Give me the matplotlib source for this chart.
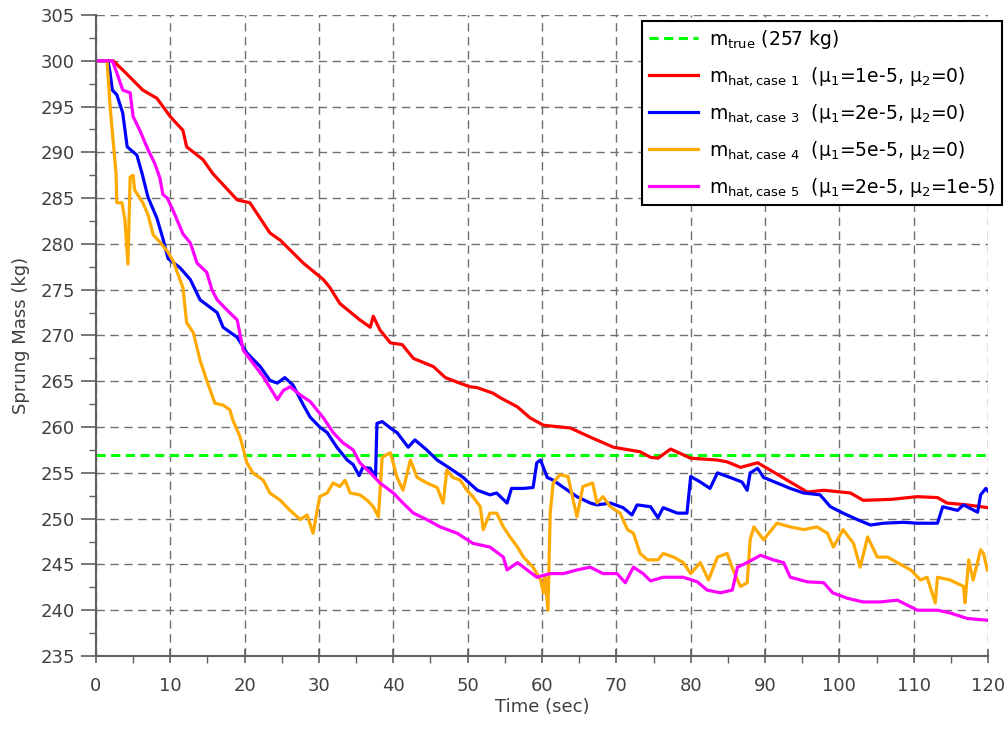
import numpy as np
import matplotlib
matplotlib.use('Agg')
import matplotlib.pyplot as plt
from matplotlib.ticker import MultipleLocator

plt.rcParams['font.family'] = ['DejaVu Sans']
plt.rcParams['mathtext.default'] = 'regular'

# true sprung mass
m_true = 257.0

# case 1 (mu1=1e-5, mu2=0)
t_case1 = [0, 2.3, 3.6, 6.3, 8.2, 10, 11.7, 12.2, 14.4, 15.7, 19, 20.7, 23.4, 24.8, 27.9,
           30.6, 31.5, 32.8, 35.5, 36.9, 37.3, 38.2, 39.6, 41.2, 42.7, 45.4, 47, 48.6,
           50.3, 51.3, 53.4, 54.4, 56.7, 58.4, 60.2, 63.8, 66.5, 69.6, 73.2, 74.6, 75.6,
           77.3, 80, 83.6, 84.9, 86.7, 89, 90.7, 93.4, 95.7, 97.9, 101.5, 103.2, 106.9,
           110.5, 113.2, 114.5, 117.2, 120]
m_case1 = [300, 300, 299.0, 296.8, 295.9, 293.9, 292.4, 290.6, 289.2, 287.7, 284.8, 284.5,
           281.2, 280.4, 277.9, 276.1, 275.2, 273.5, 271.7, 270.9, 272.1, 270.6, 269.2,
           269.0, 267.5, 266.6, 265.4, 264.9, 264.4, 264.3, 263.7, 263.2, 262.2, 261.0,
           260.2, 259.9, 258.9, 257.8, 257.3, 256.7, 256.6, 257.6, 256.6, 256.4, 256.2,
           255.6, 256.1, 255.3, 254.0, 252.9, 253.1, 252.8, 252.0, 252.1, 252.4, 252.3,
           251.7, 251.5, 251.2]

# case 3 (mu1=2e-5, mu2=0)
t_case3 = [0, 1.6, 1.9, 2.2, 2.8, 3.6, 4.2, 5.5, 6.2, 7.0, 8.2, 9.0, 9.7, 11.3, 12.7, 14.0,
           16.3, 17.1, 19.0, 20.3, 22.1, 23.4, 24.4, 25.4, 26.5, 27.9, 28.8, 30.1, 31.1,
           32.4, 33.8, 34.6, 35.4, 35.9, 36.9, 37.6, 37.8, 38.5, 39.6, 40.5, 42.0, 42.9,
           44.5, 45.9, 47.6, 49.4, 51.3, 53.0, 53.9, 55.3, 55.9, 57.5, 58.8, 59.3, 59.8,
           60.7, 61.5, 62.9, 64.7, 66.5, 67.4, 69.2, 70.9, 72.1, 72.8, 74.6, 75.6, 76.3,
           78.2, 79.5, 80.0, 81.3, 82.6, 83.6, 85.3, 86.9, 87.6, 88.0, 89.0, 89.8, 91.6,
           93.4, 95.2, 97.4, 98.8, 100.5, 102.4, 104.2, 105.9, 108.6, 110.5, 113.2, 113.9,
           115.9, 116.7, 118.6, 119.0, 119.7, 120]
m_case3 = [300, 300, 298.7, 296.8, 296.3, 294.3, 290.6, 289.7, 287.7, 285.1, 282.8, 280.6,
           278.4, 277.4, 276.1, 273.9, 272.5, 270.9, 269.8, 268.1, 266.6, 265.1, 264.8,
           265.4, 264.6, 262.4, 261.1, 260.0, 259.4, 257.8, 256.4, 255.9, 254.7, 255.6,
           255.5, 254.5, 260.4, 260.6, 259.9, 259.4, 257.8, 258.6, 257.5, 256.4, 255.5,
           254.5, 253.1, 252.6, 252.8, 251.7, 253.3, 253.3, 253.4, 256.1, 256.4, 254.5,
           254.2, 253.4, 252.4, 251.7, 251.5, 251.7, 251.2, 250.4, 251.5, 251.3, 250.1,
           251.2, 250.6, 250.6, 254.6, 254.0, 253.3, 255.0, 254.5, 254.0, 253.1, 255.0,
           255.5, 254.5, 253.9, 253.3, 252.8, 252.6, 251.3, 250.6, 249.9, 249.3, 249.5,
           249.6, 249.5, 249.5, 251.3, 250.9, 251.5, 250.7, 252.6, 253.3, 253.0]

# case 4 (mu1=5e-5, mu2=0)
t_case4 = [0, 1.2, 1.5, 1.9, 2.3, 2.7, 2.8, 3.5, 3.9, 4.3, 4.6, 5.0, 5.2, 6.3, 7.0, 7.7,
           8.6, 9.6, 10.4, 11.3, 11.7, 12.2, 13.1, 14.0, 14.9, 16.0, 17.1, 18.0, 18.4,
           19.4, 20.3, 21.1, 22.5, 23.4, 24.8, 26.1, 27.5, 28.4, 29.2, 29.7, 30.1, 31.1,
           31.9, 32.8, 33.5, 34.2, 35.5, 36.5, 37.3, 38.0, 38.5, 39.6, 40.5, 41.3, 42.3,
           43.2, 44.5, 45.9, 46.7, 47.2, 48.0, 49.0, 49.9, 50.7, 51.7, 52.1, 53.0, 53.9,
           54.8, 55.7, 56.7, 57.5, 58.8, 59.8, 60.2, 60.4, 60.8, 61.1, 61.5, 62.4, 63.5,
           64.2, 64.7, 65.5, 66.8, 67.4, 68.2, 69.2, 70.5, 71.5, 72.3, 73.2, 74.2, 75.6,
           76.3, 77.7, 79.0, 80.0, 81.3, 82.4, 83.6, 84.9, 85.7, 86.7, 87.6, 88.0, 88.5,
           89.8, 91.6, 93.4, 95.2, 97.0, 98.4, 99.2, 100.5, 101.9, 102.8, 103.8, 105.1,
           106.5, 107.8, 109.6, 110.9, 111.8, 112.9, 113.2, 114.9, 116.7, 116.9, 117.4,
           118.0, 119.0, 119.4, 119.9]
m_case4 = [300, 300, 300, 295.0, 291.3, 287.7, 284.5, 284.5, 282.6, 277.8, 287.3, 287.5,
           285.9, 284.5, 283.2, 281.0, 280.2, 279.2, 278.1, 276.1, 275.2, 271.4, 270.3,
           267.3, 265.1, 262.6, 262.4, 261.9, 260.8, 258.9, 256.1, 255.0, 254.2, 252.8,
           252.0, 250.9, 249.9, 250.4, 248.4, 250.6, 252.4, 252.8, 253.9, 253.5, 254.2,
           252.8, 252.6, 252.0, 251.3, 250.2, 256.7, 257.2, 254.5, 253.1, 256.4, 254.5,
           253.9, 253.4, 251.7, 255.3, 254.5, 254.2, 253.1, 252.4, 251.3, 248.8, 250.6,
           250.6, 249.1, 248.0, 246.9, 245.8, 244.7, 243.3, 241.9, 243.6, 240.0, 250.6,
           253.9, 254.8, 254.6, 252.0, 250.2, 253.5, 253.9, 251.7, 252.4, 251.3, 250.6,
           248.8, 248.4, 246.2, 245.5, 245.5, 246.2, 245.8, 245.2, 244.0, 245.2, 243.3,
           245.8, 246.2, 244.4, 242.6, 243.0, 247.7, 249.1, 247.7, 249.5, 249.1, 248.8,
           249.1, 248.4, 246.9, 248.8, 247.3, 244.7, 248.0, 245.8, 245.8, 245.2, 244.4,
           243.3, 243.6, 240.8, 243.6, 243.3, 242.6, 240.8, 245.5, 243.3, 246.6, 246.2,
           244.4]

# case 5 (mu1=2e-5, mu2=1e-5)
t_case5 = [0, 2.2, 2.8, 3.6, 4.6, 5.0, 5.9, 7.0, 7.9, 8.6, 9.0, 9.6, 10.4, 11.7, 12.7, 13.6,
           14.9, 15.6, 16.3, 17.6, 19.0, 19.8, 21.1, 22.5, 24.4, 25.2, 26.1, 27.5, 28.8,
           30.6, 31.9, 33.2, 34.6, 35.5, 36.9, 38.2, 40.0, 41.3, 42.7, 44.5, 46.3, 48.6,
           50.7, 53.0, 54.8, 55.3, 56.7, 58.0, 59.3, 61.1, 62.9, 64.7, 66.5, 68.2, 70.1,
           71.2, 72.3, 73.6, 74.6, 76.3, 79.0, 80.9, 82.2, 84.0, 85.6, 86.3, 87.6, 89.4,
           91.1, 92.5, 93.4, 95.7, 97.9, 99.1, 101.1, 103.2, 105.5, 107.8, 110.5, 113.2,
           114.9, 117.2, 120]
m_case5 = [300, 300, 298.7, 296.8, 296.5, 293.9, 292.4, 290.3, 288.8, 287.2, 285.4, 285.0,
           283.6, 281.1, 280.1, 277.9, 276.9, 275.0, 273.9, 272.8, 271.7, 268.4, 267.0,
           265.5, 263.0, 264.0, 264.4, 263.5, 262.8, 261.0, 259.4, 258.3, 257.5, 256.1,
           255.0, 253.9, 252.8, 251.7, 250.6, 249.9, 249.1, 248.4, 247.3, 246.9, 245.8,
           244.4, 245.2, 244.4, 243.6, 244.0, 244.0, 244.4, 244.7, 244.0, 244.0, 243.0,
           244.7, 244.0, 243.2, 243.6, 243.6, 243.1, 242.2, 241.9, 242.2, 244.7, 245.2,
           246.0, 245.5, 245.2, 243.6, 243.1, 243.0, 241.9, 241.3, 240.9, 240.9, 241.1,
           240.0, 240.0, 239.7, 239.1, 238.9]

labels = [r'm$_{true}$ (257 kg)',
          r'm$_{hat,case\ 1}$  (μ$_1$=1e-5, μ$_2$=0)',
          r'm$_{hat,case\ 3}$  (μ$_1$=2e-5, μ$_2$=0)',
          r'm$_{hat,case\ 4}$  (μ$_1$=5e-5, μ$_2$=0)',
          r'm$_{hat,case\ 5}$  (μ$_1$=2e-5, μ$_2$=1e-5)']

txtc = '#404040'
fig = plt.figure(figsize=(10.08, 7.31), dpi=100)
ax = fig.add_axes([0.0952, 0.1026, 0.885, 0.8769])

ax.plot([0, 120], [m_true, m_true], '--', color='#00ff00', lw=2.2, dashes=(3, 1.8), label=labels[0])
ax.plot(t_case1, m_case1, color='#ff0000', lw=2.3, label=labels[1])
ax.plot(t_case3, m_case3, color='#0000ff', lw=2.3, label=labels[2])
ax.plot(t_case4, m_case4, color='#ffaa00', lw=2.3, label=labels[3])
ax.plot(t_case5, m_case5, color='#ff00ff', lw=2.3, label=labels[4])

ax.set_xlim(0, 120)
ax.set_ylim(235, 305)
ax.xaxis.set_major_locator(MultipleLocator(10))
ax.xaxis.set_minor_locator(MultipleLocator(5))
ax.yaxis.set_major_locator(MultipleLocator(5))
ax.yaxis.set_minor_locator(MultipleLocator(2.5))

ax.grid(True, which='major', linestyle=(0, (6, 4)), color='#707070', lw=1.0)
for s in ['top', 'right']:
    ax.spines[s].set_visible(False)
for s in ['left', 'bottom']:
    ax.spines[s].set_color('#606060')
    ax.spines[s].set_linewidth(1.5)

ax.tick_params(axis='y', which='major', direction='out', length=11, width=1.2,
               colors='#606060', labelcolor=txtc, labelsize=13, pad=4)
ax.tick_params(axis='y', which='minor', direction='out', length=5, width=1.0, colors='#606060')
ax.tick_params(axis='x', which='major', direction='inout', length=10, width=1.2,
               colors='#606060', labelcolor=txtc, labelsize=13, pad=10)
ax.tick_params(axis='x', which='minor', direction='out', length=5, width=1.0, colors='#606060')

ax.set_xlabel('Time (sec)', fontsize=13, color=txtc, labelpad=2)
ax.set_ylabel('Sprung Mass (kg)', fontsize=13, color=txtc, labelpad=8)

leg = ax.legend(loc='upper right', bbox_to_anchor=(0.994, 0.971), bbox_transform=fig.transFigure,
                borderaxespad=0, fontsize=13.5, handlelength=2.6, fancybox=False,
                framealpha=1, edgecolor='black', labelspacing=0.75, borderpad=0.35,
                handletextpad=0.6)
leg.get_frame().set_linewidth(1.5)

fig.savefig('out.png', dpi=100)
